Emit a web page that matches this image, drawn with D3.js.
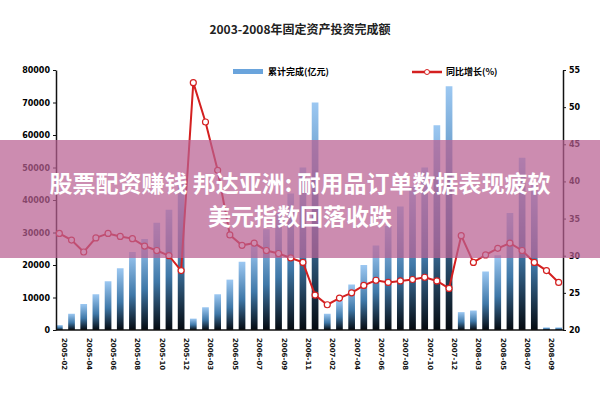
<!DOCTYPE html>
<html><head><meta charset="utf-8">
<script src="https://cdn.jsdelivr.net/npm/d3@7"></script>
<style>body{margin:0;background:#fff}</style>
</head><body>
<svg id="c" width="600" height="400"></svg>
<script>
// monthly cumulative investment (100m yuan) and y/y growth (%)
var months = ["2005-02","2005-03","2005-04","2005-05","2005-06","2005-07","2005-08","2005-09","2005-10","2005-11","2005-12",
  "2006-02","2006-03","2006-04","2006-05","2006-06","2006-07","2006-08","2006-09","2006-10","2006-11","2006-12",
  "2007-02","2007-03","2007-04","2007-05","2007-06","2007-07","2007-08","2007-09","2007-10","2007-11","2007-12",
  "2008-02","2008-03","2008-04","2008-05","2008-06","2008-07","2008-08","2008-09","2008-10"];
var amount = [1500,5000,8000,11000,15000,19000,24000,28000,33000,37000,45000,
  3500,7000,11000,15500,21000,26000,31000,36000,42000,50000,70000,
  5000,9000,14000,20000,26000,32000,38000,44000,50000,63000,75000,
  5500,6000,18000,23000,36000,53000,45000,800,800];
var growth = [33,32.1,30.5,32.4,33,32.6,32.3,31.3,30.7,30,28,
  53.3,48,41.5,32.8,31.4,31.7,30.7,30.3,29.7,29.1,24.7,
  23.4,24.3,25,26,26.7,26.4,26.6,26.8,27.1,26.6,25.6,
  32.7,29.1,30.1,31,31.7,30.7,29.1,28,26.4];
var leftTicks = [0,10000,20000,30000,40000,50000,60000,70000,80000];
var rightTicks = [20,25,30,35,40,45,50,55];

var svg = d3.select("#c");
var x = d3.scaleBand().domain(months).range([56,562]).paddingInner(0.45);
var yL = d3.scaleLinear().domain([0,80000]).range([330,70]);
var yR = d3.scaleLinear().domain([20,55]).range([330,70]);

svg.append("text").attr("x",300).attr("y",34).attr("text-anchor","middle")
  .attr("font-family","Noto Sans CJK SC").attr("font-size",12).attr("font-weight","bold")
  .attr("fill","#222").text("2003-2008年固定资产投资完成额");

var grad = svg.append("defs").append("linearGradient").attr("id","g")
  .attr("x1",0).attr("y1",0).attr("x2",0).attr("y2",1);
grad.append("stop").attr("offset","0%").attr("stop-color","#9cc8f2");
grad.append("stop").attr("offset","55%").attr("stop-color","#3f78a8");
grad.append("stop").attr("offset","100%").attr("stop-color","#050a10");

svg.selectAll("rect.bar").data(amount).enter().append("rect").attr("class","bar")
  .attr("x",(d,i)=>x(months[i])).attr("width",x.bandwidth())
  .attr("y",d=>yL(d)).attr("height",d=>330-yL(d)).attr("fill","url(#g)");

var ax = function(g){ g.selectAll("text").attr("font-family","DejaVu Sans").attr("font-size",8).attr("font-weight","bold");
  g.select(".domain").attr("stroke","#111").attr("stroke-width",1.5); g.selectAll(".tick line").attr("stroke","#111"); };
svg.append("g").attr("transform","translate(56,0)")
  .call(d3.axisLeft(yL).tickValues(leftTicks).tickSize(3).tickSizeOuter(0).tickFormat(d3.format("d"))).call(ax);
svg.append("g").attr("transform","translate(563,0)")
  .call(d3.axisRight(yR).tickValues(rightTicks).tickSize(3).tickSizeOuter(0)).call(ax);
svg.append("line").attr("x1",56).attr("x2",563).attr("y1",330).attr("y2",330).attr("stroke","#111").attr("stroke-width",1.5);

// x labels every other month
svg.selectAll("text.xl").data(months.filter((d,i)=>i%2==0)).enter().append("text").attr("class","xl")
  .attr("transform",d=>"translate("+(x(d)+x.bandwidth()/2+3)+",338) rotate(90)")
  .attr("font-family","DejaVu Sans").attr("font-size",7).attr("font-weight","bold").attr("fill","#111").text(d=>d);

var line = d3.line().x((d,i)=>x(months[i])+x.bandwidth()/2).y(d=>yR(d));
svg.append("path").datum(growth).attr("d",line).attr("fill","none").attr("stroke","#d42020").attr("stroke-width",2);
svg.selectAll("circle.pt").data(growth).enter().append("circle").attr("class","pt")
  .attr("cx",(d,i)=>x(months[i])+x.bandwidth()/2).attr("cy",d=>yR(d)).attr("r",3)
  .attr("fill","#fff").attr("stroke","#d42020").attr("stroke-width",1.2);

// legend
svg.append("rect").attr("x",233).attr("y",69).attr("width",30).attr("height",5).attr("fill","#6aa4dc");
svg.append("text").attr("x",268).attr("y",75).attr("font-family","Noto Sans CJK SC").attr("font-size",9).attr("font-weight","bold").text("累计完成(亿元)");
svg.append("line").attr("x1",412).attr("x2",442).attr("y1",72).attr("y2",72).attr("stroke","#d42020").attr("stroke-width",2.5);
svg.append("circle").attr("cx",427).attr("cy",72).attr("r",2.5).attr("fill","#fff").attr("stroke","#d42020");
svg.append("text").attr("x",446).attr("y",75).attr("font-family","Noto Sans CJK SC").attr("font-size",9).attr("font-weight","bold").text("同比增长(%)");

// overlay banner
svg.append("rect").attr("x",0).attr("y",140).attr("width",600).attr("height",118).attr("fill","rgba(185,95,145,0.72)");
var tt = ["股票配资赚钱 邦达亚洲: 耐用品订单数据表现疲软","美元指数回落收跌"];
svg.selectAll("text.ov").data(tt).enter().append("text").attr("class","ov")
  .attr("x",300).attr("y",(d,i)=>192+i*33).attr("text-anchor","middle")
  .attr("font-family","Noto Sans CJK SC").attr("font-size",23).attr("font-weight","bold").attr("fill","#fff").text(d=>d);
</script>
</body></html>
